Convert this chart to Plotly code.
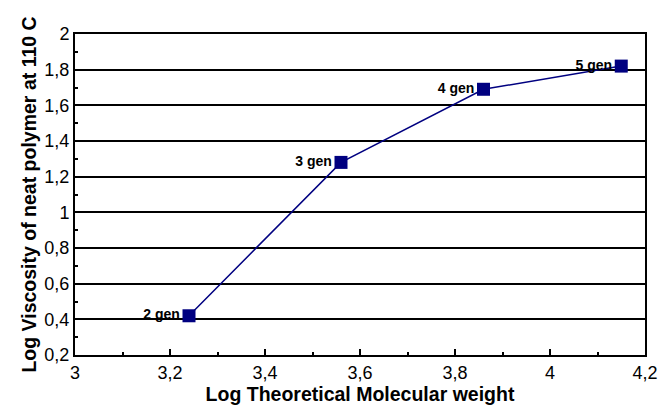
import plotly.graph_objects as go

log_mw = [3.24, 3.56, 3.86, 4.15]
log_visc = [0.42, 1.28, 1.69, 1.82]
labels = ["2 gen", "3 gen", "4 gen", "5 gen"]

fig = go.Figure()
fig.add_trace(go.Scatter(
    x=log_mw, y=log_visc, mode="lines+markers+text",
    text=labels, textposition="middle left",
    textfont=dict(family="Liberation Sans, Arial", size=14, color="black", weight="bold"),
    line=dict(color="#000080", width=1.5),
    marker=dict(symbol="square", size=13, color="#000080"),
    showlegend=False, cliponaxis=False,
))

# page body has an 8px default margin, so the figure is a bit smaller
fig.update_layout(
    width=662, height=404,
    margin=dict(l=67, r=16, t=26, b=57),
    paper_bgcolor="white", plot_bgcolor="white",
    separators=",.",
    font=dict(family="Liberation Sans, Arial", size=18, color="black"),
)
fig.update_xaxes(
    range=[3, 4.2], dtick=0.2, tick0=3,
    showgrid=False, zeroline=False,
    showline=True, linecolor="black", linewidth=2, mirror=True,
    ticks="inside", ticklen=6, tickwidth=1.5, tickcolor="black",
    minor=dict(ticks="inside", dtick=0.1, ticklen=3, tickcolor="black", tickwidth=1.5),
    title=dict(text="<b>Log Theoretical Molecular weight</b>", font=dict(size=19.5), standoff=4),
)
fig.update_yaxes(
    range=[0.2, 2], dtick=0.2, tick0=0.2,
    showgrid=True, gridcolor="black", gridwidth=1.5, zeroline=False,
    showline=True, linecolor="black", linewidth=2, mirror=True,
    ticks="inside", ticklen=6, tickwidth=1.5, tickcolor="black",
    minor=dict(ticks="inside", dtick=0.1, ticklen=3, tickcolor="black", tickwidth=1.5),
    title=dict(text="<b>Log Viscosity of neat polymer at 110 C</b>", font=dict(size=19.5), standoff=3),
)

fig.write_html("out.html")
